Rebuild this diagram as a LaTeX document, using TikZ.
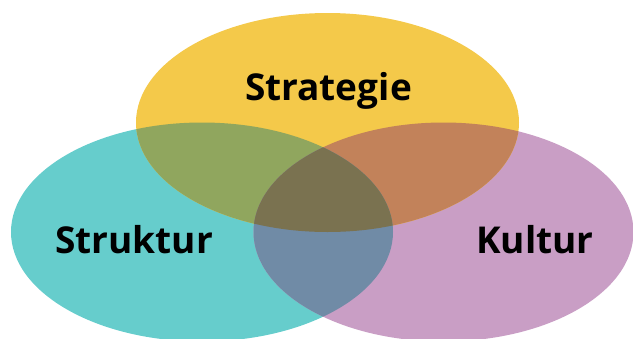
\documentclass[tikz,border=0pt]{standalone}
\usepackage{fontspec}
\setmainfont{Open Sans}
\definecolor{cyel}{RGB}{244,201,74}
\definecolor{cteal}{RGB}{102,205,204}
\definecolor{cpurp}{RGB}{201,158,197}
\definecolor{cyt}{RGB}{144,166,94}
\definecolor{cyp}{RGB}{194,130,90}
\definecolor{ctp}{RGB}{112,139,166}
\definecolor{call}{RGB}{122,114,80}
\tikzset{lbl/.style={font=\bfseries\fontsize{37}{40}\selectfont, text=black, inner sep=0pt, anchor=base}}
\begin{document}
\begin{tikzpicture}[x=1pt,y=-1pt]
\useasboundingbox (0,0) rectangle (633,338);
\def\ya{(327.5,122.5) ellipse [x radius=191.5, y radius=109.5]}
\def\tb{(202,232) ellipse [x radius=191, y radius=109.5]}
\def\pc{(443.5,232) ellipse [x radius=190, y radius=109.5]}
\fill[cteal] \tb;
\fill[cpurp] \pc;
\fill[cyel] \ya;
\begin{scope}
  \clip \ya; \fill[cyt] \tb; \fill[cyp] \pc;
\end{scope}
\begin{scope}
  \clip \tb; \fill[ctp] \pc;
  \clip \pc; \fill[call] \ya;
\end{scope}
\node[lbl] (strat) at (328.5,100) {Strategie};
\node[lbl] (strk) at (134,253) {Struktur};
\node[lbl] (kult) at (535,253) {Kultur};
\end{tikzpicture}
\end{document}
